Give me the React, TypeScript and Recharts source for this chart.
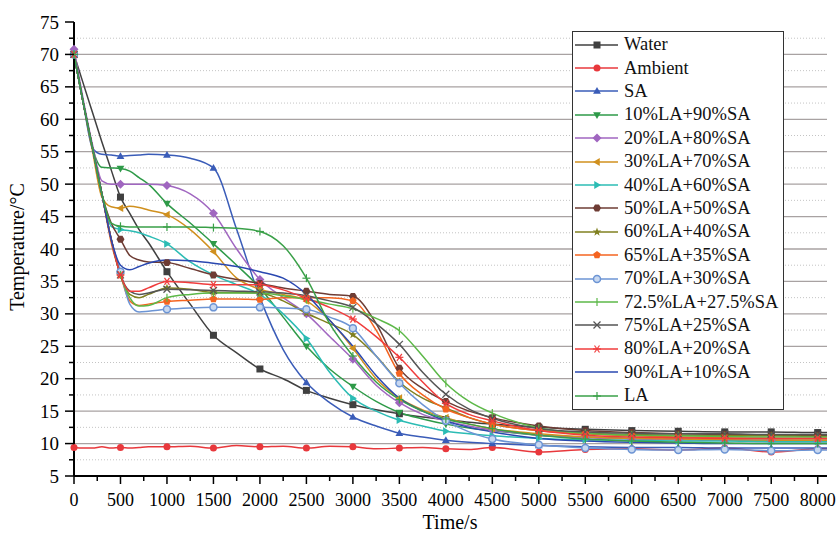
import React from "react";
import { LineChart, Line, XAxis, YAxis, CartesianGrid } from "recharts";

const times = [0, 100, 200, 300, 400, 500, 600, 700, 800, 1000, 1250, 1500, 1750, 2000, 2250, 2500, 2750, 3000, 3250, 3500, 3750, 4000, 4250, 4500, 5000, 5500, 6000, 6500, 7000, 7500, 8000, 8100];

const water = [70, 65.5, 61, 56.5, 52.2, 48, 45.5, 43, 41, 36.5, 31.5, 26.7, 24, 21.5, 20, 18.2, 17, 16, 15.2, 14.6, 14.1, 13.7, 13.3, 13, 12.5, 12.2, 12, 11.9, 11.8, 11.8, 11.7, 11.7];
const ambient = [9.4, 9.3, 9.3, 9.5, 9.3, 9.4, 9.3, 9.4, 9.5, 9.5, 9.6, 9.3, 9.7, 9.5, 9.6, 9.3, 9.6, 9.5, 9.2, 9.3, 9.4, 9.2, 9.1, 9.4, 8.7, 9.1, 9.2, 9.0, 9.3, 8.7, 9.2, 9.2];
const sa = [70, 62.5, 55.5, 54.6, 54.5, 54.3, 54.4, 54.5, 54.6, 54.5, 54, 52.5, 43, 32.5, 24.5, 19.4, 16.3, 14.1, 12.7, 11.6, 11, 10.5, 10.2, 10, 9.7, 9.5, 9.4, 9.4, 9.3, 9.3, 9.3, 9.3];
const la10 = [70, 62.5, 55.5, 52.6, 52.5, 52.4, 52, 51, 50, 47, 44, 40.8, 37.5, 34, 29.5, 25, 21.5, 18.8, 16.5, 14.8, 13.8, 13, 12.4, 12, 11.3, 11, 10.8, 10.7, 10.6, 10.5, 10.5, 10.5];
const la20 = [70.8, 63, 56, 50.5, 50, 50, 50, 50, 50, 49.8, 48.5, 45.5, 40, 35.3, 32.5, 30, 26.5, 23, 19, 16.3, 14.5, 13.5, 12.7, 12.1, 11.3, 10.9, 10.7, 10.6, 10.5, 10.5, 10.4, 10.4];
const la30 = [70, 62.5, 55, 48, 46.5, 46.3, 46.6, 46.4, 46, 45.3, 43, 39.6, 35.5, 33.8, 33, 32, 29, 24.7, 20, 17, 15.2, 14, 13, 12.3, 11.5, 11, 10.8, 10.7, 10.6, 10.5, 10.5, 10.5];
const la40 = [70, 62.5, 55.5, 48.5, 43.5, 43, 42.8, 42.5, 42, 40.8, 38, 36, 34.5, 33, 30, 26.2, 21, 17, 15, 13.6, 12.7, 11.9, 11.5, 11.2, 10.8, 10.6, 10.5, 10.4, 10.4, 10.3, 10.3, 10.3];
const la50 = [70, 62.5, 55.5, 48.5, 44, 41.5, 39, 38.3, 38, 37.9, 37, 36, 35.3, 34.7, 34, 33.5, 33, 32.7, 28.5, 21.6, 18.5, 16.5, 15, 14, 12.7, 12, 11.7, 11.5, 11.4, 11.3, 11.3, 11.3];
const la60 = [70, 62.5, 55.5, 48.5, 41.5, 36, 33, 32.5, 33, 34, 33.8, 33.3, 33.3, 33.2, 32, 30.1, 28.5, 26.8, 23.5, 19.5, 17, 15.5, 14, 13, 12, 11.6, 11.4, 11.3, 11.2, 11.2, 11.1, 11.1];
const la65 = [70, 62.5, 55.5, 48.5, 41, 36, 32, 31.3, 31.5, 31.9, 32.1, 32.3, 32.3, 32.2, 32.5, 32.5, 32.5, 32, 27.5, 20.8, 17.5, 15.3, 14, 13, 12, 11.5, 11.2, 11, 10.9, 10.8, 10.8, 10.8];
const la70 = [70, 62.5, 55.5, 48.5, 41.5, 36.5, 31.5, 30.3, 30.4, 30.7, 30.9, 31, 31, 31, 30.9, 30.7, 29.5, 27.8, 23.5, 19.3, 16, 13.5, 11.8, 10.7, 9.8, 9.3, 9.1, 9, 9.1, 8.9, 9, 9];
const la725 = [70, 62.5, 55.5, 48.5, 41.5, 36, 32.5, 31.2, 31.3, 32.5, 33, 33.2, 33.2, 33.2, 32.8, 32.2, 31.5, 30.8, 29.3, 27.4, 23.5, 19.3, 16.5, 14.7, 12.4, 11.6, 11.3, 11.2, 11.1, 11, 11, 11];
const la75 = [70, 62.5, 55.5, 48.5, 41.5, 36, 33.5, 33, 33.2, 33.8, 33.7, 33.6, 33.5, 33.4, 33.2, 32.8, 32, 31, 28.5, 25.3, 21, 17.6, 15.3, 13.9, 12.3, 11.8, 11.6, 11.5, 11.5, 11.4, 11.4, 11.4];
const la80 = [70, 62.5, 55.5, 48.5, 41.5, 36, 33.5, 33.5, 34, 35, 34.8, 34.5, 34.5, 34.5, 33.7, 32.4, 31, 29.2, 26.5, 23.3, 19.5, 16.2, 14.5, 13.5, 12, 11.3, 11, 10.9, 10.8, 10.8, 10.8, 10.8];
const la90 = [70, 62.5, 55.5, 48.5, 41.5, 37.5, 36.8, 37.3, 37.8, 38.3, 38.2, 37.8, 37.3, 36.5, 35.5, 33, 29, 25, 20.5, 17, 15, 13.5, 12.5, 11.8, 10.8, 10.4, 10.2, 10.1, 10, 10, 10, 10];
const la = [70, 62.5, 55.5, 48.5, 44, 43.5, 43.4, 43.4, 43.4, 43.4, 43.4, 43.3, 43.2, 42.7, 40.5, 35.5, 28.5, 23.5, 19.5, 16.8, 15, 13.8, 13, 12.3, 11.3, 10.7, 10.4, 10.2, 10.1, 10, 10, 10];

const xTicks = [0, 250, 500, 750, 1000, 1250, 1500, 1750, 2000, 2250, 2500, 2750, 3000, 3250, 3500, 3750, 4000, 4250, 4500, 4750, 5000, 5250, 5500, 5750, 6000, 6250, 6500, 6750, 7000, 7250, 7500, 7750, 8000];
const yTicks = [5, 7.5, 10, 12.5, 15, 17.5, 20, 22.5, 25, 27.5, 30, 32.5, 35, 37.5, 40, 42.5, 45, 47.5, 50, 52.5, 55, 57.5, 60, 62.5, 65, 67.5, 70, 72.5, 75];
const majorGrid = [10, 15, 20, 25, 30, 35, 40, 45, 50, 55, 60, 65, 70];
const minorGrid = [7.5, 12.5, 17.5, 22.5, 27.5, 32.5, 37.5, 42.5, 47.5, 52.5, 57.5, 62.5, 67.5, 72.5];

const series = [
  { key: "water", name: "Water", color: "#404040", shape: "square", values: water },
  { key: "ambient", name: "Ambient", color: "#e8383c", shape: "circle", values: ambient },
  { key: "sa", name: "SA", color: "#3a5cb8", shape: "triUp", values: sa },
  { key: "la10", name: "10%LA+90%SA", color: "#2e9a48", shape: "triDown", values: la10 },
  { key: "la20", name: "20%LA+80%SA", color: "#a066c0", shape: "diamond", values: la20 },
  { key: "la30", name: "30%LA+70%SA", color: "#d0901e", shape: "triLeft", values: la30 },
  { key: "la40", name: "40%LA+60%SA", color: "#2cbcb4", shape: "triRight", values: la40 },
  { key: "la50", name: "50%LA+50%SA", color: "#6e3c34", shape: "hex", values: la50 },
  { key: "la60", name: "60%LA+40%SA", color: "#808020", shape: "star", values: la60 },
  { key: "la65", name: "65%LA+35%SA", color: "#f46420", shape: "pentagon", values: la65 },
  { key: "la70", name: "70%LA+30%SA", color: "#6c94d4", shape: "openCircle", values: la70 },
  { key: "la725", name: "72.5%LA+27.5%SA", color: "#5cb848", shape: "vbar", values: la725 },
  { key: "la75", name: "75%LA+25%SA", color: "#555555", shape: "cross", values: la75 },
  { key: "la80", name: "80%LA+20%SA", color: "#f03c3c", shape: "asterisk", values: la80 },
  { key: "la90", name: "90%LA+10%SA", color: "#2a48b0", shape: "none", values: la90 },
  { key: "la", name: "LA", color: "#3aa048", shape: "plus", values: la },
];

const data = times.map((t, i) => {
  const row: Record<string, number> = { t };
  series.forEach((s) => {
    row[s.key] = s.values[i];
  });
  return row;
});

const FONT = "Liberation Serif, Tinos, Times New Roman, DejaVu Serif, serif";

function poly(cx: number, cy: number, r: number, n: number, rot: number) {
  const pts: string[] = [];
  for (let i = 0; i < n; i++) {
    const a = rot + (i * 2 * Math.PI) / n;
    pts.push(`${cx + r * Math.cos(a)},${cy + r * Math.sin(a)}`);
  }
  return pts.join(" ");
}

function Marker({ shape, cx, cy, color }: { shape: string; cx: number; cy: number; color: string }) {
  switch (shape) {
    case "square":
      return <rect x={cx - 3.5} y={cy - 3.5} width={7} height={7} fill={color} />;
    case "circle":
      return <circle cx={cx} cy={cy} r={3.5} fill={color} />;
    case "triUp":
      return <polygon points={poly(cx, cy + 0.5, 4.5, 3, -Math.PI / 2)} fill={color} />;
    case "triDown":
      return <polygon points={poly(cx, cy - 0.5, 4.5, 3, Math.PI / 2)} fill={color} />;
    case "triLeft":
      return <polygon points={poly(cx + 0.5, cy, 4.5, 3, Math.PI)} fill={color} />;
    case "triRight":
      return <polygon points={poly(cx - 0.5, cy, 4.5, 3, 0)} fill={color} />;
    case "diamond":
      return <polygon points={poly(cx, cy, 4.5, 4, 0)} fill={color} />;
    case "hex":
      return <polygon points={poly(cx, cy, 4, 6, 0)} fill={color} />;
    case "pentagon":
      return <polygon points={poly(cx, cy, 4, 5, -Math.PI / 2)} fill={color} />;
    case "star": {
      const pts: string[] = [];
      for (let i = 0; i < 10; i++) {
        const r = i % 2 === 0 ? 4.5 : 1.8;
        const a = -Math.PI / 2 + (i * Math.PI) / 5;
        pts.push(`${cx + r * Math.cos(a)},${cy + r * Math.sin(a)}`);
      }
      return <polygon points={pts.join(" ")} fill={color} />;
    }
    case "openCircle":
      return <circle cx={cx} cy={cy} r={3.5} fill="#c8d8f0" stroke={color} strokeWidth={1.5} />;
    case "vbar":
      return <line x1={cx} y1={cy - 4} x2={cx} y2={cy + 4} stroke={color} strokeWidth={1.2} />;
    case "cross":
      return (
        <g stroke={color} strokeWidth={1.2}>
          <line x1={cx - 3.5} y1={cy - 3.5} x2={cx + 3.5} y2={cy + 3.5} />
          <line x1={cx - 3.5} y1={cy + 3.5} x2={cx + 3.5} y2={cy - 3.5} />
        </g>
      );
    case "asterisk":
      return (
        <g stroke={color} strokeWidth={1.2}>
          <line x1={cx - 4} y1={cy} x2={cx + 4} y2={cy} />
          <line x1={cx - 2.5} y1={cy - 3.5} x2={cx + 2.5} y2={cy + 3.5} />
          <line x1={cx - 2.5} y1={cy + 3.5} x2={cx + 2.5} y2={cy - 3.5} />
        </g>
      );
    case "plus":
      return (
        <g stroke={color} strokeWidth={1.2}>
          <line x1={cx - 4} y1={cy} x2={cx + 4} y2={cy} />
          <line x1={cx} y1={cy - 4} x2={cx} y2={cy + 4} />
        </g>
      );
    default:
      return null;
  }
}

const XTick = (props: any) => {
  const { x, y, payload } = props;
  const major = payload.value % 500 === 0;
  return (
    <g>
      <line x1={x} y1={y} x2={x} y2={y + (major ? 8 : 5)} stroke="#000" strokeWidth={1.5} />
      {major && (
        <text x={x} y={y + 30} textAnchor="middle" fontSize={18} fontWeight="normal" style={{ fontFamily: FONT }} fill="#000">
          {payload.value}
        </text>
      )}
    </g>
  );
};

const YTick = (props: any) => {
  const { x, y, payload } = props;
  const major = payload.value % 5 === 0;
  return (
    <g>
      <line x1={x} y1={y} x2={x - (major ? 9 : 5)} y2={y} stroke="#000" strokeWidth={1.5} />
      {major && (
        <text x={x - 15} y={y + 6.5} textAnchor="end" fontSize={19} fontWeight="normal" style={{ fontFamily: FONT }} fill="#000">
          {payload.value}
        </text>
      )}
    </g>
  );
};

function LegendBox() {
  return (
    <div
      style={{
        position: "absolute",
        left: 572,
        top: 31,
        width: 210,
        height: 377,
        background: "#fff",
        border: "1px solid #333",
        fontFamily: FONT,
        fontSize: 18.5,
        color: "#111",
      }}
    >
      {series.map((s, i) => (
        <div
          key={s.key}
          style={{ position: "absolute", left: 0, top: 1 + i * 23.4, height: 23.4, display: "flex", alignItems: "center" }}
        >
          <svg width={48} height={14} style={{ display: "block" }}>
            <line x1={2} y1={7} x2={45} y2={7} stroke={s.color} strokeWidth={1.5} />
            <Marker shape={s.shape} cx={24} cy={7} color={s.color} />
          </svg>
          <span style={{ marginLeft: 3, whiteSpace: "nowrap", lineHeight: "23px" }}>{s.name}</span>
        </div>
      ))}
    </div>
  );
}

export default function App() {
  return (
    <div style={{ position: "absolute", left: 0, top: 0, width: 837, height: 534, background: "#fff", fontFamily: FONT }}>
      <LineChart width={837} height={534} data={data} margin={{ top: 22, right: 10, bottom: 8, left: 0 }}>
        <CartesianGrid vertical={false} horizontalValues={minorGrid} stroke="#c4c4c4" strokeDasharray="1 2" />
        <CartesianGrid vertical={false} horizontalValues={majorGrid} stroke="#a8a2a2" strokeWidth={1.3} />
        <XAxis
          dataKey="t"
          type="number"
          domain={[0, 8100]}
          ticks={xTicks}
          interval={0}
          tickSize={0}
          tickMargin={0}
          tickLine={false}
          tick={<XTick />}
          height={50}
          axisLine={{ stroke: "#000", strokeWidth: 2 }}
          label={{
            content: () => (
              <text x={450} y={529} textAnchor="middle" fontSize={20} style={{ fontFamily: FONT }} fill="#000">
                Time/s
              </text>
            ),
          }}
        />
        <YAxis
          type="number"
          domain={[5, 75]}
          ticks={yTicks}
          interval={0}
          tickSize={0}
          tickMargin={0}
          tickLine={false}
          tick={<YTick />}
          width={74}
          axisLine={{ stroke: "#000", strokeWidth: 2 }}
          label={{
            content: () => (
              <text
                x={0}
                y={0}
                transform="translate(24 247) rotate(-90)"
                textAnchor="middle"
                fontSize={20}
                style={{ fontFamily: FONT }}
                fill="#000"
              >
                Temperature/°C
              </text>
            ),
          }}
        />
        {series.map((s) => (
          <Line
            key={s.key}
            type="monotone"
            dataKey={s.key}
            name={s.name}
            stroke={s.color}
            strokeWidth={1.5}
            isAnimationActive={false}
            activeDot={false}
            dot={(p: any) => {
              const show = p.payload && p.payload.t % 500 === 0 && p.cx != null && p.cy != null;
              return (
                <g key={`${s.key}-${p.index}`}>
                  {show && <Marker shape={s.shape} cx={p.cx} cy={p.cy} color={s.color} />}
                </g>
              );
            }}
          />
        ))}
      </LineChart>
      <LegendBox />
    </div>
  );
}
